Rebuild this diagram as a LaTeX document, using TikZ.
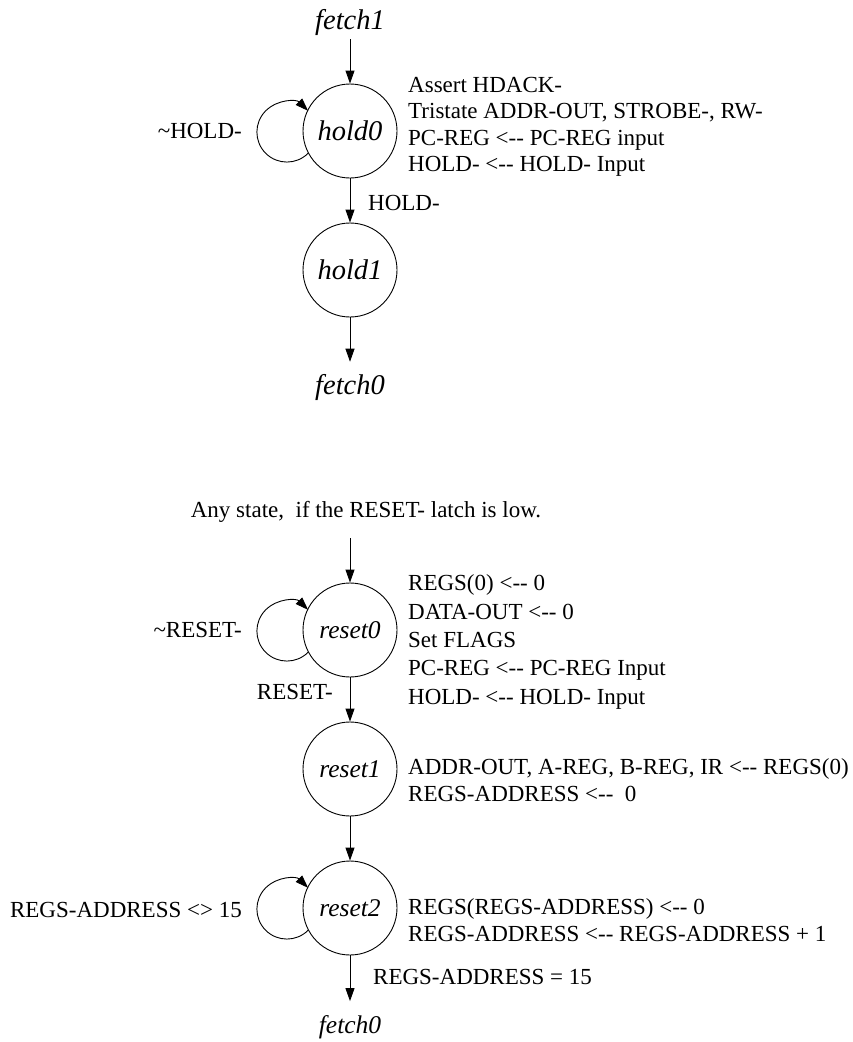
\documentclass[tikz,border=0pt]{standalone}
\usepackage{fontspec}
\setmainfont{Liberation Serif}
\usetikzlibrary{arrows.meta}
% assignment arrow without the en-dash ligature
\newcommand\lto{<-\kern0pt-}
\newcommand\plainfont{\fontsize{23}{26.4}\selectfont}
\newcommand\holdname{\fontsize{28.5}{30}\selectfont\itshape}
\newcommand\resetname{\fontsize{25.5}{30}\selectfont\itshape}

\begin{document}
\begin{tikzpicture}[x=1pt,y=-1pt,
  state/.style={draw, circle, minimum size=94pt, inner sep=0pt, line width=0.9pt},
  lbl/.style={inner sep=0pt, font=\plainfont},
  notes/.style={inner sep=0pt, font=\plainfont, align=left, anchor=west},
  arr/.style={line width=0.9pt, -{Triangle[length=13pt,width=9pt]}},
  selfloop/.style={arr},
]
\useasboundingbox (0,0) rectangle (852,1042);

% ---------- hold sequence ----------
\node[inner sep=0pt, font=\holdname] (f1) at (350,22) {fetch1};
\node[state, font=\holdname] (h0) at (350,131) {hold0};
\node[state, font=\holdname] (h1) at (350,270) {hold1};
\node[inner sep=0pt, font=\holdname] (f0a) at (350,387) {fetch0};

\node[notes] (h0txt) at (408,127) {Assert HDACK-\\Tristate ADDR-OUT, STROBE-, RW-\\PC-REG \lto{} PC-REG input\\HOLD- \lto{} HOLD- Input};
\node[lbl, anchor=east] (nhold) at (242,131) {\textasciitilde HOLD-};
\node[lbl, anchor=west] (hold) at (368,203) {HOLD-};

\draw[arr, shorten <=4pt] (f1) -- (h0);
\draw[arr] (h0) -- (h1);
\draw[arr, shorten >=12pt] (h1) -- (f0a);
\draw[selfloop] (h0.208) arc[start angle=45, end angle=315, radius=30];

% ---------- reset sequence ----------
\node[lbl] (any) at (366,512) {Any state,\ \ if the RESET- latch is low.};
\coordinate (rin) at (350,538);
\node[state, font=\resetname] (r0) at (350,630) {reset0};
\node[state, font=\resetname] (r1) at (350,769) {reset1};
\node[state, font=\resetname] (r2) at (350,908) {reset2};
\node[inner sep=0pt, font=\resetname] (f0b) at (350,1027) {fetch0};

\node[notes, font=\fontsize{23}{28.4}\selectfont] (r0txt) at (408,642) {REGS(0) \lto{} 0\\DATA-OUT \lto{} 0\\Set FLAGS\\PC-REG \lto{} PC-REG Input\\HOLD- \lto{} HOLD- Input};
\node[notes] (r1txt) at (408,780) {ADDR-OUT, A-REG, B-REG, IR \lto{} REGS(0)\\REGS-ADDRESS \lto{}\ \ 0};
\node[notes] (r2txt) at (408,920) {REGS(REGS-ADDRESS) \lto{} 0\\REGS-ADDRESS \lto{} REGS-ADDRESS + 1};

\node[lbl, anchor=east] (nreset) at (242,630) {\textasciitilde RESET-};
\node[lbl, anchor=east] (reset) at (333,692) {RESET-};
\node[lbl, anchor=east] (ne15) at (242,910) {REGS-ADDRESS <> 15};
\node[lbl, anchor=west] (eq15) at (373,977) {REGS-ADDRESS = 15};

\draw[arr] (rin) -- (r0);
\draw[arr] (r0) -- (r1);
\draw[arr] (r1) -- (r2);
\draw[arr, shorten >=14pt] (r2) -- (f0b);
\draw[selfloop] (r0.208) arc[start angle=45, end angle=315, radius=30];
\draw[selfloop] (r2.208) arc[start angle=45, end angle=315, radius=30];
\end{tikzpicture}
\end{document}
